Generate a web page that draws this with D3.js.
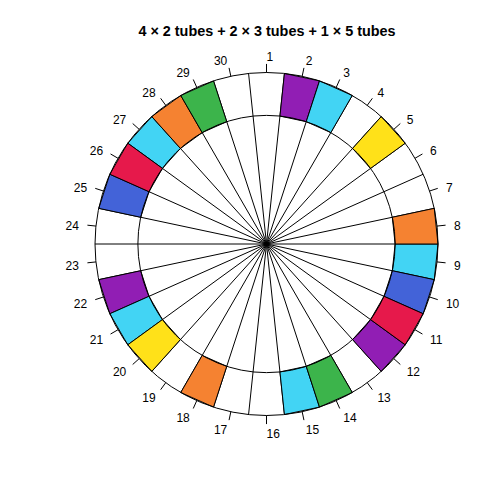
<!DOCTYPE html>
<html>
<head>
<meta charset="utf-8">
<script src="https://cdn.jsdelivr.net/npm/d3@7"></script>
<style>
  html, body { margin: 0; padding: 0; background: #fff; }
  svg { display: block; }
</style>
</head>
<body>
<svg id="chart" width="504" height="504"></svg>
<script>
// ---- data ----
const title = "4 \u00d7 2 tubes + 2 \u00d7 3 tubes + 1 \u00d7 5 tubes";
const nSlots = 30;
const slotLabels = d3.range(1, 31).map(String);
const groupNames  = ["purple", "cyan", "yellow", "orange", "blue", "red", "green"];
const groupColors = ["#911eb4", "#42d4f4", "#ffe119", "#f58231", "#4363d8", "#e6194b", "#3cb44b"];
const groupSlots  = [
  [2, 12, 22],
  [3, 9, 15, 21, 27],
  [5, 20],
  [8, 18, 28],
  [10, 25],
  [11, 26],
  [14, 29]
];

// ---- layout ----
const svg = d3.select("#chart");
const cx = 266.5, cy = 244, R = 171.5;
const innerFrac = 0.75;

// angle (degrees clockwise from top) for slot positions; k center at (k-1)*12
const ang = d3.scaleLinear().domain([1, nSlots + 1]).range([0, 360]);
const rad = d3.scaleLinear().domain([0, 1]).range([0, R]);

function pt(aDeg, r) {
  const a = aDeg * Math.PI / 180;
  return [cx + r * Math.sin(a), cy - r * Math.cos(a)];
}

// title
svg.append("text")
  .attr("x", 267).attr("y", 36)
  .attr("text-anchor", "middle")
  .attr("font-family", "Liberation Sans, Arial, sans-serif")
  .attr("font-weight", "bold")
  .attr("font-size", 14.4)
  .attr("fill", "#000")
  .text(title);

// radial boundary lines
const bounds = d3.range(1, nSlots + 1).map(k => k - 0.5);
svg.append("g").selectAll("line").data(bounds).join("line")
  .attr("x1", cx).attr("y1", cy)
  .attr("x2", d => pt(ang(d), rad(1))[0])
  .attr("y2", d => pt(ang(d), rad(1))[1])
  .attr("stroke", "#000").attr("stroke-width", 1);

// coloured tube slots
const filled = [];
groupSlots.forEach((slots, gi) => slots.forEach(s => filled.push({slot: s, color: groupColors[gi]})));
svg.append("g").selectAll("polygon").data(filled).join("polygon")
  .attr("points", d => {
    const a0 = ang(d.slot - 0.5), a1 = ang(d.slot + 0.5);
    const ri = rad(innerFrac), ro = rad(1);
    return [pt(a0, ri), pt(a0, ro), pt(a1, ro), pt(a1, ri)].map(p => p.join(",")).join(" ");
  })
  .attr("fill", d => d.color)
  .attr("stroke", "#000").attr("stroke-width", 1);

// circles
svg.append("circle").attr("cx", cx).attr("cy", cy).attr("r", rad(1))
  .attr("fill", "none").attr("stroke", "#000").attr("stroke-width", 1);
svg.append("circle").attr("cx", cx).attr("cy", cy).attr("r", rad(innerFrac))
  .attr("fill", "none").attr("stroke", "#000").attr("stroke-width", 1);

// ticks
const slots = d3.range(1, nSlots + 1);
svg.append("g").selectAll("line").data(slots).join("line")
  .attr("x1", d => pt(ang(d), rad(1))[0])
  .attr("y1", d => pt(ang(d), rad(1))[1])
  .attr("x2", d => pt(ang(d), rad(1.05))[0])
  .attr("y2", d => pt(ang(d), rad(1.05))[1])
  .attr("stroke", "#000").attr("stroke-width", 1);

// labels
svg.append("g").selectAll("text").data(slots).join("text")
  .attr("x", d => pt(ang(d), rad(1.1))[0])
  .attr("y", d => pt(ang(d), rad(1.1))[1] + 5.8)
  .attr("text-anchor", d => Math.sin(ang(d) * Math.PI / 180) < 0 ? "end" : "start")
  .attr("font-family", "Liberation Sans, Arial, sans-serif")
  .attr("font-size", 12)
  .attr("fill", "#000")
  .text(d => slotLabels[d - 1]);
</script>
</body>
</html>
